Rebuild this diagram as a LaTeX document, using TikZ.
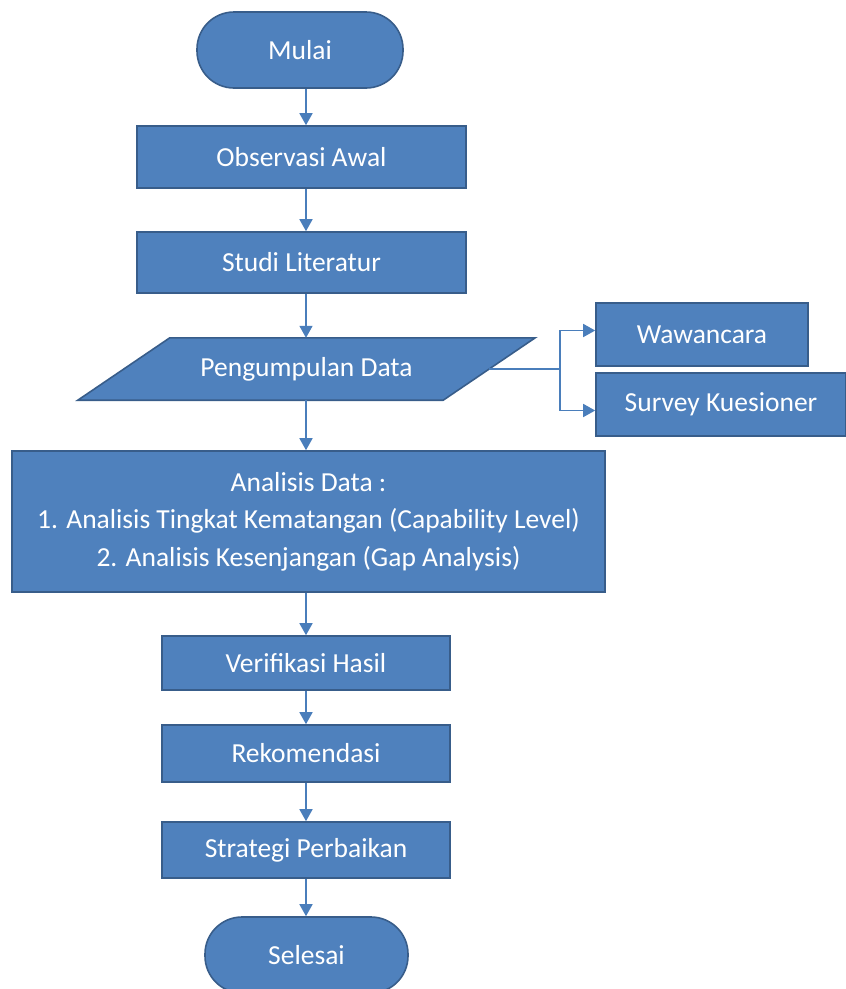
\documentclass[tikz,border=0pt]{standalone}
\usepackage{fontspec}
\setmainfont{Carlito}
\usetikzlibrary{arrows.meta,calc}
\definecolor{boxfill}{HTML}{4F81BD}
\definecolor{boxline}{HTML}{385D8A}
\definecolor{arrcol}{HTML}{4A7EBB}
\tikzset{
  txt/.style={text=white,font=\fontsize{27.5}{37.5}\selectfont},
  base/.style={txt,fill=boxfill,draw=boxline,line width=1.6pt,inner sep=0pt},
  procbox/.style={base,rectangle},
  termbox/.style={base,rectangle,rounded corners=37pt},
  arr/.style={draw=arrcol,line width=1.6pt,-{Triangle[width=13pt,length=12pt]}},
  plainline/.style={draw=arrcol,line width=1.6pt},
}
\begin{document}
\begin{tikzpicture}[x=1pt,y=-1pt]
\useasboundingbox (0,0) rectangle (846,989);
\clip (0,0) rectangle (846,989);
\coordinate (ax) at (306,0);
\node[termbox,minimum width=206pt,minimum height=76pt] (mulai) at (300,50) {Mulai};
\node[procbox,minimum width=329pt,minimum height=62pt] (obs) at (301.5,157) {Observasi Awal};
\node[procbox,minimum width=329pt,minimum height=61pt] (studi) at (301.5,262.5) {Studi Literatur};
% parallelogram
\node[inner sep=0pt,minimum width=365pt,minimum height=62pt] (peng) at (306.5,369) {};
\fill[boxfill,draw=boxline,line width=1.6pt] ([xshift=-46pt]peng.south west) -- ([xshift=-46pt]peng.south east) -- ([xshift=46pt]peng.north east) -- ([xshift=46pt]peng.north west) -- cycle;
\node[txt] at (peng) {Pengumpulan Data};
\node[procbox,minimum width=212pt,minimum height=63pt] (waw) at (702,334.5) {Wawancara};
\node[procbox,minimum width=250pt,minimum height=63pt] (sur) at (721,404.5) {Survey Kuesioner};
\node[procbox,minimum width=593pt,minimum height=141pt,align=center] (anal) at (308.5,521.5)
  {Analisis Data :\\1. Analisis Tingkat Kematangan (Capability Level)\\2. Analisis Kesenjangan (Gap Analysis)};
\node[procbox,minimum width=288pt,minimum height=54pt] (verif) at (306,663) {Verifikasi Hasil};
\node[procbox,minimum width=288pt,minimum height=57pt] (rek) at (306,753.5) {Rekomendasi};
\node[procbox,minimum width=288pt,minimum height=56pt] (strat) at (306,850) {Strategi Perbaikan};
\node[termbox,minimum width=203pt,minimum height=76pt] (sel) at (306.5,955) {Selesai};
% connectors
\draw[arr] (mulai.south -| ax) -- (obs.north -| ax);
\draw[arr] (obs.south -| ax) -- (studi.north -| ax);
\draw[arr] (studi.south -| ax) -- (peng.north -| ax);
\draw[arr] (peng.south -| ax) -- (anal.north -| ax);
\draw[arr] (anal.south -| ax) -- (verif.north -| ax);
\draw[arr] (verif.south -| ax) -- (rek.north -| ax);
\draw[arr] (rek.south -| ax) -- (strat.north -| ax);
\draw[arr] (strat.south -| ax) -- (sel.north -| ax);
\coordinate (br) at (560,369);
\draw[plainline] (peng.east) -- (br);
\draw[arr] (br) |- ([yshift=4pt]waw.west);
\draw[arr] (br) |- ([yshift=-6pt]sur.west);
\end{tikzpicture}
\end{document}
